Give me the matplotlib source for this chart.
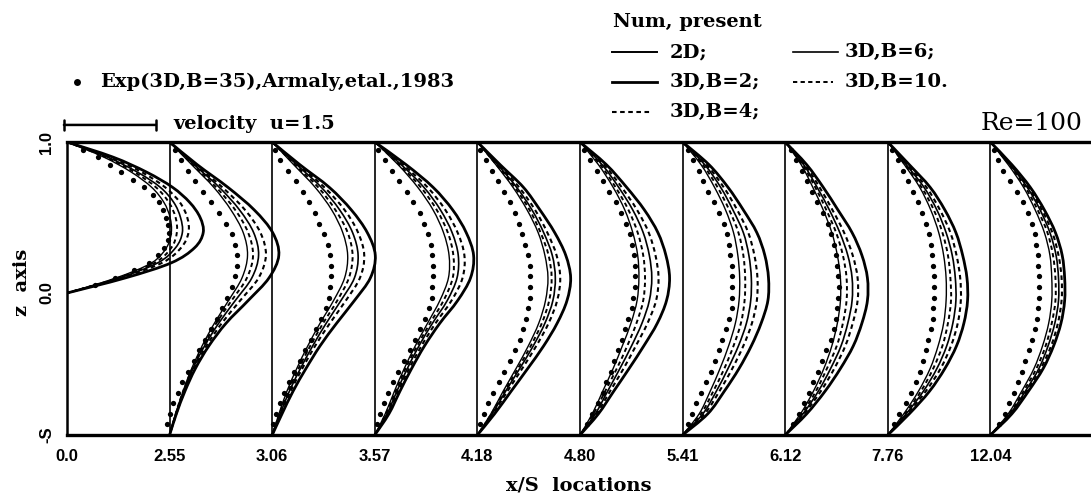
import numpy as np
import matplotlib
matplotlib.use("Agg")
import matplotlib.pyplot as plt
from matplotlib.lines import Line2D
from matplotlib.path import Path
from matplotlib.patches import PathPatch

# ---------------- data ----------------
station_labels = ["0.0", "2.55", "3.06", "3.57", "4.18", "4.80", "5.41", "6.12", "7.76", "12.04"]
S = 0.94  # step height (bottom wall at z = -S)

# inlet station (x/S = 0.0): profile only between z = 0 and z = 1
z_inlet = [1.0, 0.9, 0.8, 0.7, 0.6, 0.5, 0.4, 0.3, 0.2, 0.1, 0.0]
u0_b2 = [0, 0.75, 1.30, 1.72, 2.00, 2.17, 2.22, 2.08, 1.70, 0.95, 0]
u0_b4 = [0, 0.70, 1.22, 1.60, 1.84, 1.96, 1.98, 1.86, 1.55, 0.88, 0]
u0_b6 = [0, 0.66, 1.15, 1.52, 1.74, 1.85, 1.88, 1.77, 1.48, 0.85, 0]
u0_b10 = [0, 0.63, 1.10, 1.45, 1.66, 1.77, 1.79, 1.70, 1.43, 0.83, 0]
u0_2d = [0, 0.60, 1.05, 1.38, 1.58, 1.68, 1.70, 1.62, 1.38, 0.80, 0]
z_exp_inlet = [0.95, 0.90, 0.85, 0.80, 0.75, 0.70, 0.65, 0.60, 0.55, 0.50,
               0.45, 0.40, 0.35, 0.30, 0.25, 0.20, 0.15, 0.10, 0.05]
u0_exp = [0.26, 0.50, 0.70, 0.88, 1.08, 1.26, 1.40, 1.50, 1.57, 1.62,
          1.65, 1.66, 1.64, 1.58, 1.48, 1.33, 1.10, 0.78, 0.46]

# downstream stations (x/S = 2.55 ... 12.04): z from 1 to -S
z_chan = [1.0, 0.85, 0.7, 0.55, 0.4, 0.25, 0.1, -0.05, -0.2, -0.35, -0.5, -0.65, -0.8, -0.94]
u_b2 = [
    [0, 0.45, 0.95, 1.38, 1.68, 1.78, 1.62, 1.28, 0.92, 0.64, 0.42, 0.25, 0.11, 0],
    [0, 0.45, 0.93, 1.29, 1.55, 1.68, 1.60, 1.34, 1.05, 0.78, 0.55, 0.34, 0.16, 0],
    [0, 0.51, 0.95, 1.27, 1.49, 1.61, 1.56, 1.35, 1.06, 0.81, 0.60, 0.41, 0.23, 0],
    [0, 0.37, 0.75, 1.02, 1.26, 1.44, 1.52, 1.46, 1.30, 1.08, 0.82, 0.55, 0.28, 0],
    [0, 0.43, 0.76, 1.05, 1.27, 1.40, 1.46, 1.41, 1.26, 1.04, 0.80, 0.55, 0.30, 0],
    [0, 0.43, 0.74, 0.99, 1.21, 1.34, 1.40, 1.39, 1.28, 1.12, 0.92, 0.68, 0.41, 0],
    [0, 0.35, 0.62, 0.86, 1.09, 1.25, 1.34, 1.34, 1.25, 1.11, 0.90, 0.65, 0.35, 0],
    [0, 0.35, 0.69, 0.93, 1.11, 1.22, 1.29, 1.30, 1.24, 1.12, 0.93, 0.68, 0.35, 0],
    [0, 0.35, 0.65, 0.88, 1.06, 1.17, 1.21, 1.21, 1.15, 1.03, 0.86, 0.62, 0.35, 0],
]
u_b4 = [
    [0, 0.42, 0.86, 1.23, 1.48, 1.57, 1.45, 1.15, 0.85, 0.60, 0.40, 0.24, 0.11, 0],
    [0, 0.42, 0.85, 1.18, 1.40, 1.50, 1.43, 1.20, 0.94, 0.70, 0.49, 0.30, 0.14, 0],
    [0, 0.46, 0.86, 1.15, 1.35, 1.46, 1.43, 1.25, 0.99, 0.76, 0.56, 0.38, 0.21, 0],
    [0, 0.35, 0.68, 0.94, 1.14, 1.29, 1.35, 1.30, 1.16, 0.96, 0.73, 0.49, 0.25, 0],
    [0, 0.39, 0.68, 0.93, 1.12, 1.23, 1.28, 1.24, 1.10, 0.91, 0.71, 0.49, 0.27, 0],
    [0, 0.39, 0.67, 0.89, 1.07, 1.17, 1.22, 1.21, 1.13, 0.99, 0.81, 0.60, 0.36, 0],
    [0, 0.32, 0.56, 0.77, 0.96, 1.10, 1.18, 1.18, 1.10, 0.98, 0.80, 0.58, 0.31, 0],
    [0, 0.32, 0.63, 0.85, 1.02, 1.12, 1.18, 1.19, 1.14, 1.03, 0.86, 0.62, 0.32, 0],
    [0, 0.33, 0.62, 0.84, 1.01, 1.11, 1.16, 1.16, 1.10, 0.99, 0.82, 0.59, 0.33, 0],
]
u_b6 = [
    [0, 0.40, 0.81, 1.14, 1.37, 1.45, 1.34, 1.07, 0.80, 0.57, 0.38, 0.23, 0.10, 0],
    [0, 0.40, 0.80, 1.10, 1.31, 1.40, 1.34, 1.12, 0.88, 0.66, 0.46, 0.28, 0.13, 0],
    [0, 0.43, 0.80, 1.07, 1.26, 1.36, 1.34, 1.18, 0.94, 0.72, 0.53, 0.36, 0.20, 0],
    [0, 0.33, 0.64, 0.89, 1.08, 1.22, 1.27, 1.23, 1.10, 0.91, 0.69, 0.46, 0.24, 0],
    [0, 0.36, 0.63, 0.86, 1.03, 1.13, 1.17, 1.13, 1.01, 0.84, 0.65, 0.45, 0.25, 0],
    [0, 0.36, 0.62, 0.82, 0.99, 1.08, 1.12, 1.11, 1.04, 0.91, 0.74, 0.55, 0.33, 0],
    [0, 0.30, 0.52, 0.72, 0.89, 1.02, 1.09, 1.09, 1.02, 0.91, 0.74, 0.54, 0.29, 0],
    [0, 0.30, 0.59, 0.80, 0.95, 1.05, 1.10, 1.11, 1.06, 0.96, 0.80, 0.58, 0.30, 0],
    [0, 0.32, 0.60, 0.81, 0.97, 1.07, 1.11, 1.11, 1.05, 0.94, 0.79, 0.57, 0.32, 0],
]
u_b10 = [
    [0, 0.38, 0.76, 1.07, 1.28, 1.36, 1.26, 1.01, 0.76, 0.55, 0.37, 0.22, 0.10, 0],
    [0, 0.37, 0.75, 1.03, 1.23, 1.31, 1.25, 1.06, 0.83, 0.62, 0.43, 0.26, 0.12, 0],
    [0, 0.40, 0.75, 1.01, 1.19, 1.28, 1.27, 1.12, 0.90, 0.69, 0.50, 0.34, 0.18, 0],
    [0, 0.31, 0.61, 0.85, 1.03, 1.16, 1.21, 1.17, 1.05, 0.87, 0.66, 0.44, 0.23, 0],
    [0, 0.33, 0.58, 0.79, 0.94, 1.03, 1.06, 1.03, 0.92, 0.77, 0.60, 0.41, 0.22, 0],
    [0, 0.33, 0.57, 0.76, 0.91, 0.99, 1.02, 1.01, 0.95, 0.83, 0.68, 0.50, 0.30, 0],
    [0, 0.28, 0.49, 0.67, 0.83, 0.94, 1.00, 1.00, 0.94, 0.84, 0.68, 0.50, 0.27, 0],
    [0, 0.28, 0.55, 0.75, 0.89, 0.98, 1.02, 1.03, 0.98, 0.89, 0.74, 0.54, 0.28, 0],
    [0, 0.31, 0.57, 0.77, 0.93, 1.02, 1.06, 1.06, 1.00, 0.90, 0.75, 0.54, 0.31, 0],
]
u_2d = [
    [0, 0.36, 0.72, 1.00, 1.20, 1.27, 1.18, 0.96, 0.73, 0.53, 0.36, 0.22, 0.10, 0],
    [0, 0.35, 0.70, 0.97, 1.15, 1.23, 1.18, 1.00, 0.78, 0.58, 0.40, 0.24, 0.11, 0],
    [0, 0.38, 0.70, 0.95, 1.12, 1.21, 1.20, 1.06, 0.86, 0.66, 0.48, 0.32, 0.17, 0],
    [0, 0.30, 0.58, 0.81, 0.99, 1.10, 1.15, 1.11, 1.00, 0.83, 0.63, 0.42, 0.22, 0],
    [0, 0.30, 0.54, 0.73, 0.86, 0.94, 0.96, 0.93, 0.83, 0.69, 0.54, 0.37, 0.20, 0],
    [0, 0.30, 0.52, 0.70, 0.83, 0.90, 0.93, 0.92, 0.86, 0.75, 0.61, 0.45, 0.27, 0],
    [0, 0.26, 0.45, 0.62, 0.76, 0.85, 0.90, 0.90, 0.85, 0.76, 0.63, 0.46, 0.25, 0],
    [0, 0.27, 0.52, 0.70, 0.83, 0.91, 0.95, 0.95, 0.91, 0.82, 0.69, 0.50, 0.26, 0],
    [0, 0.29, 0.54, 0.73, 0.88, 0.97, 1.00, 1.00, 0.95, 0.85, 0.71, 0.51, 0.29, 0],
]
z_exp = [0.95, 0.88, 0.81, 0.74, 0.67, 0.60, 0.53, 0.46, 0.39, 0.32, 0.25, 0.18, 0.11, 0.04,
         -0.03, -0.10, -0.17, -0.24, -0.31, -0.38, -0.45, -0.52, -0.59, -0.66, -0.73, -0.80, -0.87]
u_exp = [
    [0.08, 0.18, 0.30, 0.42, 0.55, 0.68, 0.80, 0.92, 1.01, 1.07, 1.10, 1.10, 1.07, 1.01,
     0.94, 0.86, 0.77, 0.68, 0.58, 0.48, 0.39, 0.30, 0.21, 0.13, 0.06, 0.00, -0.05],
    [0.05, 0.13, 0.26, 0.38, 0.50, 0.60, 0.69, 0.77, 0.85, 0.91, 0.94, 0.96, 0.96, 0.95,
     0.93, 0.88, 0.80, 0.72, 0.63, 0.54, 0.45, 0.36, 0.27, 0.19, 0.12, 0.06, 0.02],
    [0.06, 0.16, 0.28, 0.40, 0.52, 0.63, 0.73, 0.80, 0.86, 0.91, 0.94, 0.95, 0.95, 0.94,
     0.93, 0.89, 0.82, 0.74, 0.65, 0.57, 0.47, 0.37, 0.29, 0.22, 0.15, 0.08, 0.03],
    [0.05, 0.14, 0.24, 0.34, 0.44, 0.53, 0.61, 0.67, 0.73, 0.78, 0.82, 0.85, 0.86, 0.86,
     0.85, 0.83, 0.80, 0.75, 0.69, 0.61, 0.53, 0.44, 0.35, 0.26, 0.18, 0.10, 0.04],
    [0.07, 0.16, 0.27, 0.37, 0.47, 0.58, 0.67, 0.75, 0.81, 0.85, 0.88, 0.89, 0.89, 0.89,
     0.87, 0.84, 0.79, 0.74, 0.68, 0.62, 0.56, 0.50, 0.43, 0.37, 0.29, 0.20, 0.11],
    [0.08, 0.17, 0.26, 0.34, 0.42, 0.51, 0.59, 0.67, 0.72, 0.76, 0.78, 0.80, 0.81, 0.81,
     0.81, 0.80, 0.76, 0.71, 0.65, 0.59, 0.53, 0.46, 0.38, 0.30, 0.22, 0.15, 0.08],
    [0.09, 0.18, 0.27, 0.35, 0.43, 0.52, 0.61, 0.69, 0.75, 0.79, 0.82, 0.85, 0.86, 0.87,
     0.86, 0.84, 0.82, 0.79, 0.74, 0.67, 0.60, 0.53, 0.46, 0.38, 0.30, 0.22, 0.13],
    [0.07, 0.17, 0.25, 0.33, 0.41, 0.49, 0.56, 0.62, 0.67, 0.70, 0.72, 0.74, 0.75, 0.75,
     0.75, 0.74, 0.73, 0.70, 0.66, 0.62, 0.58, 0.53, 0.46, 0.38, 0.29, 0.19, 0.10],
    [0.06, 0.13, 0.21, 0.32, 0.43, 0.53, 0.62, 0.68, 0.72, 0.75, 0.77, 0.78, 0.79, 0.79,
     0.79, 0.78, 0.76, 0.72, 0.68, 0.63, 0.57, 0.51, 0.45, 0.38, 0.31, 0.23, 0.14],
]

# ---------------- layout / style ----------------
W, H = 1091, 494
VSCALE = 0.598   # station-spacing units per unit velocity
SERIF = ["DejaVu Serif"]
SANS = ["Liberation Sans", "DejaVu Sans"]

styles = {
    "b2": dict(lw=2.0, ls="-"),
    "b4": dict(lw=1.5, ls=(0, (2.2, 1.7))),
    "b6": dict(lw=1.2, ls="-"),
    "b10": dict(lw=1.4, ls=(0, (2.2, 1.7))),
    "2d": dict(lw=1.0, ls="-"),
}


def smooth_path(xs, ys):
    """Smooth drawing path (cubic Bezier) passing through every read point."""
    P = np.column_stack([xs, ys]).astype(float)
    n = len(P)
    verts = [P[0]]
    codes = [Path.MOVETO]
    for k in range(n - 1):
        p0 = P[k - 1] if k > 0 else P[k]
        p1 = P[k]
        p2 = P[k + 1]
        p3 = P[k + 2] if k + 2 < n else P[k + 1]
        verts += [p1 + (p2 - p0) / 6.0, p2 - (p3 - p1) / 6.0, p2]
        codes += [Path.CURVE4] * 3
    return Path(verts, codes)


def draw_profile(ax, x0, u, z, key):
    st = styles[key]
    path = smooth_path(x0 + np.array(u) * VSCALE, np.array(z))
    ax.add_patch(PathPatch(path, fill=False, edgecolor="black", lw=st["lw"],
                           ls=st["ls"], capstyle="butt", zorder=3))


fig = plt.figure(figsize=(W / 100, H / 100), dpi=100)
ax = fig.add_axes([67 / W, 1 - 435 / H, (W - 67) / W, (435 - 142) / H])

n_st = len(station_labels)
ax.set_xlim(0, (W - 67) / 102.6)
ax.set_ylim(-S, 1.0)

# station lines
for i in range(1, n_st):
    ax.plot([i, i], [-S, 1.0], color="black", lw=1.2, zorder=2)

# inlet profiles
for key, u in [("b2", u0_b2), ("b4", u0_b4), ("b6", u0_b6), ("b10", u0_b10), ("2d", u0_2d)]:
    draw_profile(ax, 0, u, z_inlet, key)
ax.plot(np.array(u0_exp) * VSCALE, z_exp_inlet, "o", color="black", ms=3.8, mew=0, zorder=4)

for i in range(1, n_st):
    for key, data in [("b2", u_b2), ("b4", u_b4), ("b6", u_b6), ("b10", u_b10), ("2d", u_2d)]:
        draw_profile(ax, i, data[i - 1], z_chan, key)
    ax.plot(i + np.array(u_exp[i - 1]) * VSCALE, z_exp, "o", color="black", ms=3.8, mew=0,
            zorder=4)

# axes frame
ax.spines["right"].set_visible(False)
ax.spines["top"].set_linewidth(2.4)
ax.spines["bottom"].set_linewidth(2.4)
ax.spines["left"].set_linewidth(1.8)

ax.set_xticks(range(n_st))
ax.set_xticklabels(station_labels, family=SANS, fontweight="bold", fontsize=12)
ax.set_yticks([-S, 0.0, 1.0])
ax.set_yticklabels(["-S", "0.0", "1.0"], family=SANS, fontweight="bold", fontsize=12,
                   rotation=90, va="center")
ax.tick_params(axis="both", length=0)
ax.tick_params(axis="x", pad=10)
ax.tick_params(axis="y", pad=9)
ax.set_xlabel("x/S  locations", family=SERIF, fontweight="bold", fontsize=14, labelpad=9)
ax.set_ylabel("z  axis", family=SERIF, fontweight="bold", fontsize=14)
ax.yaxis.set_label_coords(-0.035, 0.52)


def fx(px):
    return px / W


def fy(py):
    return 1 - py / H


# velocity scale bar
ax.annotate("", xy=(-0.03, 1.113), xytext=(1.5 * VSCALE - 0.03, 1.113), xycoords="data",
            arrowprops=dict(arrowstyle="|-|,widthA=0.35,widthB=0.35", lw=1.8, color="black",
                            shrinkA=0, shrinkB=0), annotation_clip=False)
fig.text(fx(173), fy(124), "velocity  u=1.5", family=SERIF, fontweight="bold", fontsize=14,
         va="center", ha="left")

# experimental legend
fig.add_artist(Line2D([fx(77)], [fy(82)], marker="o", ms=5, color="black", mew=0))
fig.text(fx(100), fy(82), "Exp(3D,B=35),Armaly,etal.,1983", family=SERIF, fontweight="bold",
         fontsize=14, va="center", ha="left")

# numerical legend
fig.text(fx(613), fy(22), "Num, present", family=SERIF, fontweight="bold", fontsize=14,
         va="center", ha="left")
leg_items = [
    ("2d", "2D;", 612, 657, 670, 52),
    ("b2", "3D,B=2;", 612, 657, 670, 82),
    ("b4", "3D,B=4;", 612, 652, 670, 112),
    ("b6", "3D,B=6;", 793, 838, 845, 52),
    ("b10", "3D,B=10.", 793, 833, 845, 82),
]
for key, label, x0, x1, xt, yy in leg_items:
    st = styles[key]
    lw = 1.4 if key == "2d" else st["lw"]
    fig.add_artist(Line2D([fx(x0), fx(x1)], [fy(yy), fy(yy)], color="black", lw=lw,
                          ls=st["ls"]))
    fig.text(fx(xt), fy(yy), label, family=SERIF, fontweight="bold", fontsize=14,
             va="center", ha="left")

fig.text(fx(1082), fy(123), "Re=100", family=SERIF, fontsize=18, va="center", ha="right")

fig.savefig("out.png", dpi=100)
